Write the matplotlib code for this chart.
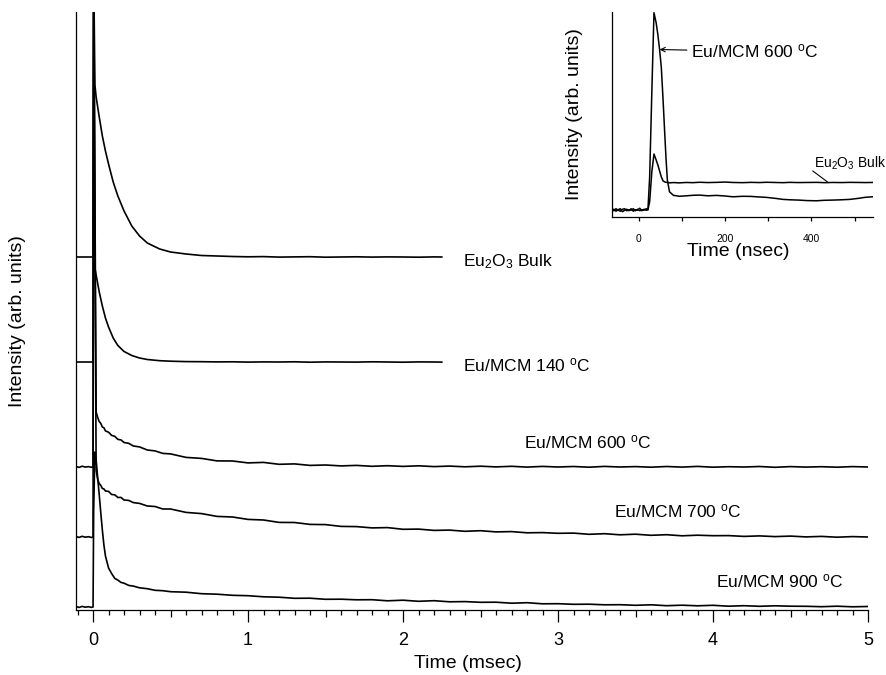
import matplotlib
matplotlib.use("Agg")
import matplotlib.pyplot as plt
import numpy as np
from matplotlib.ticker import MultipleLocator, FixedLocator

plt.rcParams["font.family"] = ["Liberation Sans", "DejaVu Sans"]
plt.rcParams["mathtext.fontset"] = "custom"
plt.rcParams["mathtext.rm"] = "Liberation Sans"
plt.rcParams["mathtext.it"] = "Liberation Sans:italic"
plt.rcParams["mathtext.bf"] = "Liberation Sans:bold"

# ---------------- main panel: decay traces (time in msec, stacked intensities) ----------------
t_short = [-0.11, -0.05, 0.0, 0.004, 0.012, 0.02, 0.04, 0.06, 0.08, 0.10, 0.13, 0.16, 0.20,
           0.25, 0.30, 0.35, 0.43, 0.50, 0.60, 0.70, 0.80, 0.90, 1.0, 1.1, 1.2, 1.3, 1.4,
           1.5, 1.6, 1.7, 1.8, 1.9, 2.0, 2.1, 2.2, 2.25]

eu2o3_bulk = [353, 353, 353, 640, 525, 513, 493, 474, 459, 446, 428, 414, 399,
              384, 374, 367, 361, 358, 356, 354.5, 354, 353.5, 353.2, 353.4, 352.9, 353.1, 353.3,
              352.8, 353.0, 353.2, 352.9, 353.1, 353.0, 352.8, 353.1, 353.0]

eu_mcm_140 = [248, 248, 248, 640, 342, 335, 318, 304, 292, 283, 272, 264.5, 258.5,
              254.5, 252, 250.5, 249.3, 248.8, 248.4, 248.3, 248.1, 248.2, 247.9, 248.1, 248.0,
              248.2, 247.8, 248.1, 248.0, 247.9, 248.2, 248.0, 247.8, 248.1, 248.0, 247.9]

t_long = [-0.11, -0.09, -0.07, -0.05, -0.03, -0.01, 0.0, 0.004, 0.012, 0.02, 0.03, 0.04,
          0.05, 0.06, 0.07, 0.08, 0.10, 0.12, 0.14, 0.16, 0.18, 0.20, 0.23, 0.26, 0.30,
          0.35, 0.40, 0.45, 0.50, 0.6, 0.7, 0.8, 0.9, 1.0, 1.1, 1.2, 1.3, 1.4, 1.5, 1.6,
          1.7, 1.8, 1.9, 2.0, 2.1, 2.2, 2.3, 2.4, 2.5, 2.6, 2.7, 2.8, 2.9, 3.0, 3.1, 3.2,
          3.3, 3.4, 3.5, 3.6, 3.7, 3.8, 3.9, 4.0, 4.1, 4.2, 4.3, 4.4, 4.5, 4.6, 4.7, 4.8,
          4.9, 5.0]

eu_mcm_600 = [143.5, 142.6, 143.8, 142.9, 143.4, 142.7, 143.2, 640, 420, 198, 192.5, 188.4,
              186.6, 183.0, 182.2, 179.1, 177.8, 174.6, 173.7, 170.6, 170.1, 167.5, 166.7, 164.0, 163.1,
              160.0, 159.1, 156.6, 156.1, 152.6, 151.6, 149.1, 149.0, 147.1, 147.6, 145.7, 146.1, 144.6, 145.0, 144.1,
              144.6, 143.7, 144.3, 143.6, 144.2, 143.4, 143.9, 143.2, 143.8, 143.1, 143.7, 142.9, 143.6, 143.0, 143.5, 142.8,
              143.6, 143.0, 143.4, 142.8, 143.5, 142.9, 143.6, 142.8, 143.3, 143.0, 143.5, 142.7, 143.4, 142.9, 143.3, 142.8,
              143.4, 143.0]

eu_mcm_700 = [73.4, 72.6, 73.7, 72.8, 73.3, 72.5, 73.1, 640, 380, 140, 130.5, 126.4,
              124.6, 121.5, 121.1, 119.0, 118.6, 115.5, 115.2, 112.5, 112.6, 110.0, 109.6, 107.4, 106.6,
              104.0, 103.5, 101.0, 101.0, 97.6, 96.4, 93.6, 93.0, 90.6, 90.0, 87.6, 87.5, 85.6, 85.4, 83.6,
              83.4, 82.1, 82.4, 80.7, 80.9, 79.6, 79.9, 78.7, 79.3, 78.1, 78.4, 77.2, 77.4, 76.7, 76.9, 75.7,
              76.3, 75.2, 75.8, 74.7, 75.3, 74.2, 74.8, 74.3, 74.4, 73.6, 74.1, 73.4, 73.9, 73.1, 73.6, 72.8,
              73.4, 73.0]

eu_mcm_900 = [3.4, 2.6, 3.6, 2.8, 3.3, 2.6, 3.0, 100, 158, 150, 132, 115,
              97, 80, 65, 54, 42, 36.4, 31.6, 29.9, 27.6, 26.8, 24.6, 23.9, 22.2,
              21.3, 19.7, 19.3, 18.3, 17.8, 16.3, 15.8, 14.7, 14.3, 13.2, 12.8, 11.7, 11.8, 10.7, 10.8,
              10.2, 10.3, 9.2, 9.8, 8.7, 9.3, 8.2, 8.4, 7.7, 7.8, 6.8, 7.3, 6.2, 6.3, 5.7, 5.8,
              5.2, 5.3, 4.7, 5.2, 4.3, 4.8, 4.2, 4.7, 3.8, 4.3, 3.7, 4.2, 3.8, 3.7, 3.3, 3.8,
              3.2, 3.5]

curve_labels = [r"Eu$_2$O$_3$ Bulk", r"Eu/MCM 140 $^{\mathrm{o}}$C", r"Eu/MCM 600 $^{\mathrm{o}}$C",
                r"Eu/MCM 700 $^{\mathrm{o}}$C", r"Eu/MCM 900 $^{\mathrm{o}}$C"]
label_t = [2.39, 2.39, 2.78, 3.36, 4.02]
label_I = [344, 239, 162, 93, 23]

x_major = [0, 0.5, 1, 1.5, 2, 2.5, 3, 3.5, 4, 4.5, 5]
x_major_text = ["0", "", "1", "", "2", "", "3", "", "4", "", "5"]

# ---------------- inset: early-time response (time in nsec) ----------------
t_ns = [-63, -58, -53, -48, -43, -38, -33, -28, -23, -18, -13, -8, -3, 2, 7, 12, 17, 21,
        25, 30, 35, 40, 44, 48, 52, 56, 60, 63, 66, 71, 80, 94, 110, 125, 141, 160, 180,
        200, 218, 240, 260, 280, 296, 315, 334, 350, 370, 390, 412, 430, 450, 470, 489,
        510, 525, 541]

inset_600 = [6, 7.5, 5.5, 7, 8, 5, 6.5, 7.5, 6, 8, 5.5, 7, 6.5, 8.5, 6, 7.5, 6.5, 7,
             40, 125, 205, 195, 183, 168, 150, 118, 83, 58, 37, 25, 21.5, 20.5, 21, 21.5, 21.7,
             21, 21.4, 20.8, 20, 20.5, 20.4, 19.8, 19.4, 18.5, 17.4, 17, 16.7, 16.2, 16, 16.5,
             16.7, 17, 17.4, 18.5, 19.5, 20]

inset_bulk = [7, 6, 8, 6.5, 5.5, 7.5, 8, 6, 7, 6.5, 8, 6, 7.5, 6, 7, 6.5, 8, 7,
              15, 45, 63, 57, 52, 46, 40, 36, 35, 34.5, 34.5, 34, 34.3, 34, 34.4, 34.2, 34.6,
              34.3, 34.5, 34.8, 34.4, 34.2, 34.5, 34.3, 34.6, 34.4, 34.2, 34.5, 34.3, 34.4,
              34.5, 34.2, 34.4, 34.3, 34.5, 34.4, 34.3, 34.4]

fig = plt.figure(figsize=(8.87, 6.75), dpi=100)
W, H = 887.0, 675.0

ax = fig.add_axes([76 / W, 1 - 610 / H, 792 / W, 598 / H])
lw = 1.2
ax.plot(t_short, eu2o3_bulk, color="k", lw=lw)
ax.plot(t_short, eu_mcm_140, color="k", lw=lw)
ax.plot(t_long, eu_mcm_600, color="k", lw=lw)
ax.plot(t_long, eu_mcm_700, color="k", lw=lw)
ax.plot(t_long, eu_mcm_900, color="k", lw=lw)

for s, tx, iy in zip(curve_labels, label_t, label_I):
    ax.text(tx, iy, s, fontsize=12.5, ha="left", va="baseline")

ax.set_xlim(-0.11, 5.0)
ax.set_ylim(0, 598)
ax.set_yticks([])
for side in ("top", "right"):
    ax.spines[side].set_visible(False)
for side in ("left", "bottom"):
    ax.spines[side].set_linewidth(0.9)

ax.xaxis.set_major_locator(FixedLocator(x_major))
ax.set_xticklabels(x_major_text)
ax.xaxis.set_minor_locator(MultipleLocator(0.1))
ax.tick_params(axis="x", which="major", direction="out", length=8.6, width=0.9,
               labelsize=13, pad=7)
ax.tick_params(axis="x", which="minor", direction="out", length=3.6, width=0.9)
for tick, loc in zip(ax.xaxis.get_major_ticks(), x_major):
    if loc % 1:
        tick.tick1line.set_markersize(5.2)

fig.text(468 / W, 1 - 664 / H, "Time (msec)", fontsize=14, ha="center", va="center")
fig.text(18 / W, 1 - 321 / H, "Intensity (arb. units)", fontsize=14, ha="center",
         va="center", rotation=90)

# inset
axin = fig.add_axes([611.7 / W, 1 - 216.7 / H, 261 / W, 205 / H])
axin.plot(t_ns, inset_bulk, color="k", lw=1.1)
axin.plot(t_ns, inset_600, color="k", lw=1.1)
axin.set_xlim(-63, 542)
axin.set_ylim(0, 206)
axin.set_yticks([])
for side in ("top", "right"):
    axin.spines[side].set_visible(False)
for side in ("left", "bottom"):
    axin.spines[side].set_linewidth(0.9)
axin.xaxis.set_major_locator(FixedLocator([0, 200, 400]))
axin.xaxis.set_minor_locator(MultipleLocator(100))
axin.tick_params(axis="x", which="both", direction="out", length=3.2, width=0.9,
                 labelsize=7.5, pad=9)

axin.annotate(r"Eu/MCM 600 $^{\mathrm{o}}$C", xy=(48, 168), xytext=(121, 166),
              fontsize=12.5, ha="left", va="center",
              arrowprops=dict(arrowstyle="->", lw=0.8, color="k", shrinkA=1, shrinkB=0,
                              mutation_scale=8))
axin.annotate("", xy=(437, 35), xytext=(403, 46),
              arrowprops=dict(arrowstyle="-", lw=0.8, color="k", shrinkA=0, shrinkB=0))
axin.text(407, 54, r"Eu$_2$O$_3$ Bulk", fontsize=10, ha="left", va="center", clip_on=False)

fig.text(738 / W, 1 - 251 / H, "Time (nsec)", fontsize=14, ha="center", va="center")
fig.text(575 / W, 1 - 114 / H, "Intensity (arb. units)", fontsize=14, ha="center",
         va="center", rotation=90)

fig.savefig("out.png", dpi=100)
